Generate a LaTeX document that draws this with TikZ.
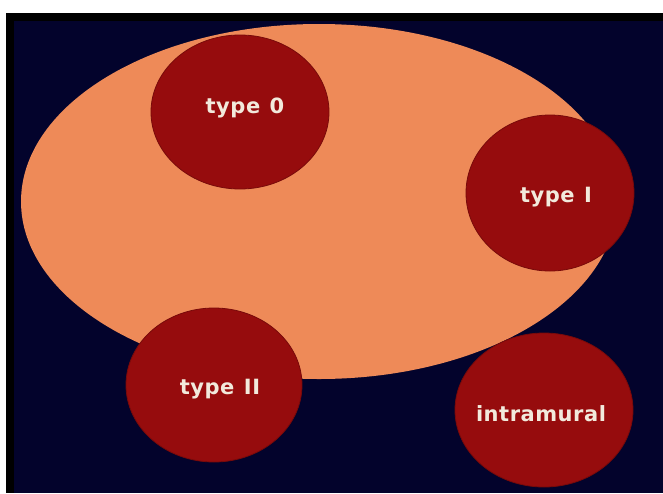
\documentclass[tikz,border=0pt]{standalone}
\usepackage{fontspec}
\newfontfamily\labelfont[LetterSpace=2.5]{DejaVu Sans Bold}
\definecolor{navy}{HTML}{03032C}
\definecolor{peach}{HTML}{EE8A58}
\definecolor{blood}{HTML}{960C0D}
\definecolor{cream}{HTML}{F2EADC}
\tikzset{
  blob/.style={fill=blood, draw=blood!80!black, line width=0.8pt},
  lbl/.style={text=cream, font=\labelfont\fontsize{21}{24}\selectfont, inner sep=0pt}
}
\begin{document}
\begin{tikzpicture}[x=1pt,y=-1pt]
\fill[white] (0,0) rectangle (663,493);
\useasboundingbox (0,0) rectangle (663,493);
\fill[black] (6,13) rectangle (663,493);
\fill[navy] (14,21) rectangle (663,493);
\fill[peach] (319,201.5) ellipse [x radius=298, y radius=177.5];
\draw[blob] (240,112) ellipse [x radius=89, y radius=77];
\draw[blob] (550,193) ellipse [x radius=84, y radius=78];
\draw[blob] (214,385) ellipse [x radius=88, y radius=77];
\draw[blob] (544,410) ellipse [x radius=89, y radius=77];
\node[lbl] (t0) at (245,108) {type\hspace{0.45em}0};
\node[lbl] (t1) at (556,197) {type\hspace{0.45em}I};
\node[lbl] (t2) at (220,389) {type\hspace{0.45em}II};
\node[lbl] (ti) at (541,414) {intramural};
\end{tikzpicture}
\end{document}
